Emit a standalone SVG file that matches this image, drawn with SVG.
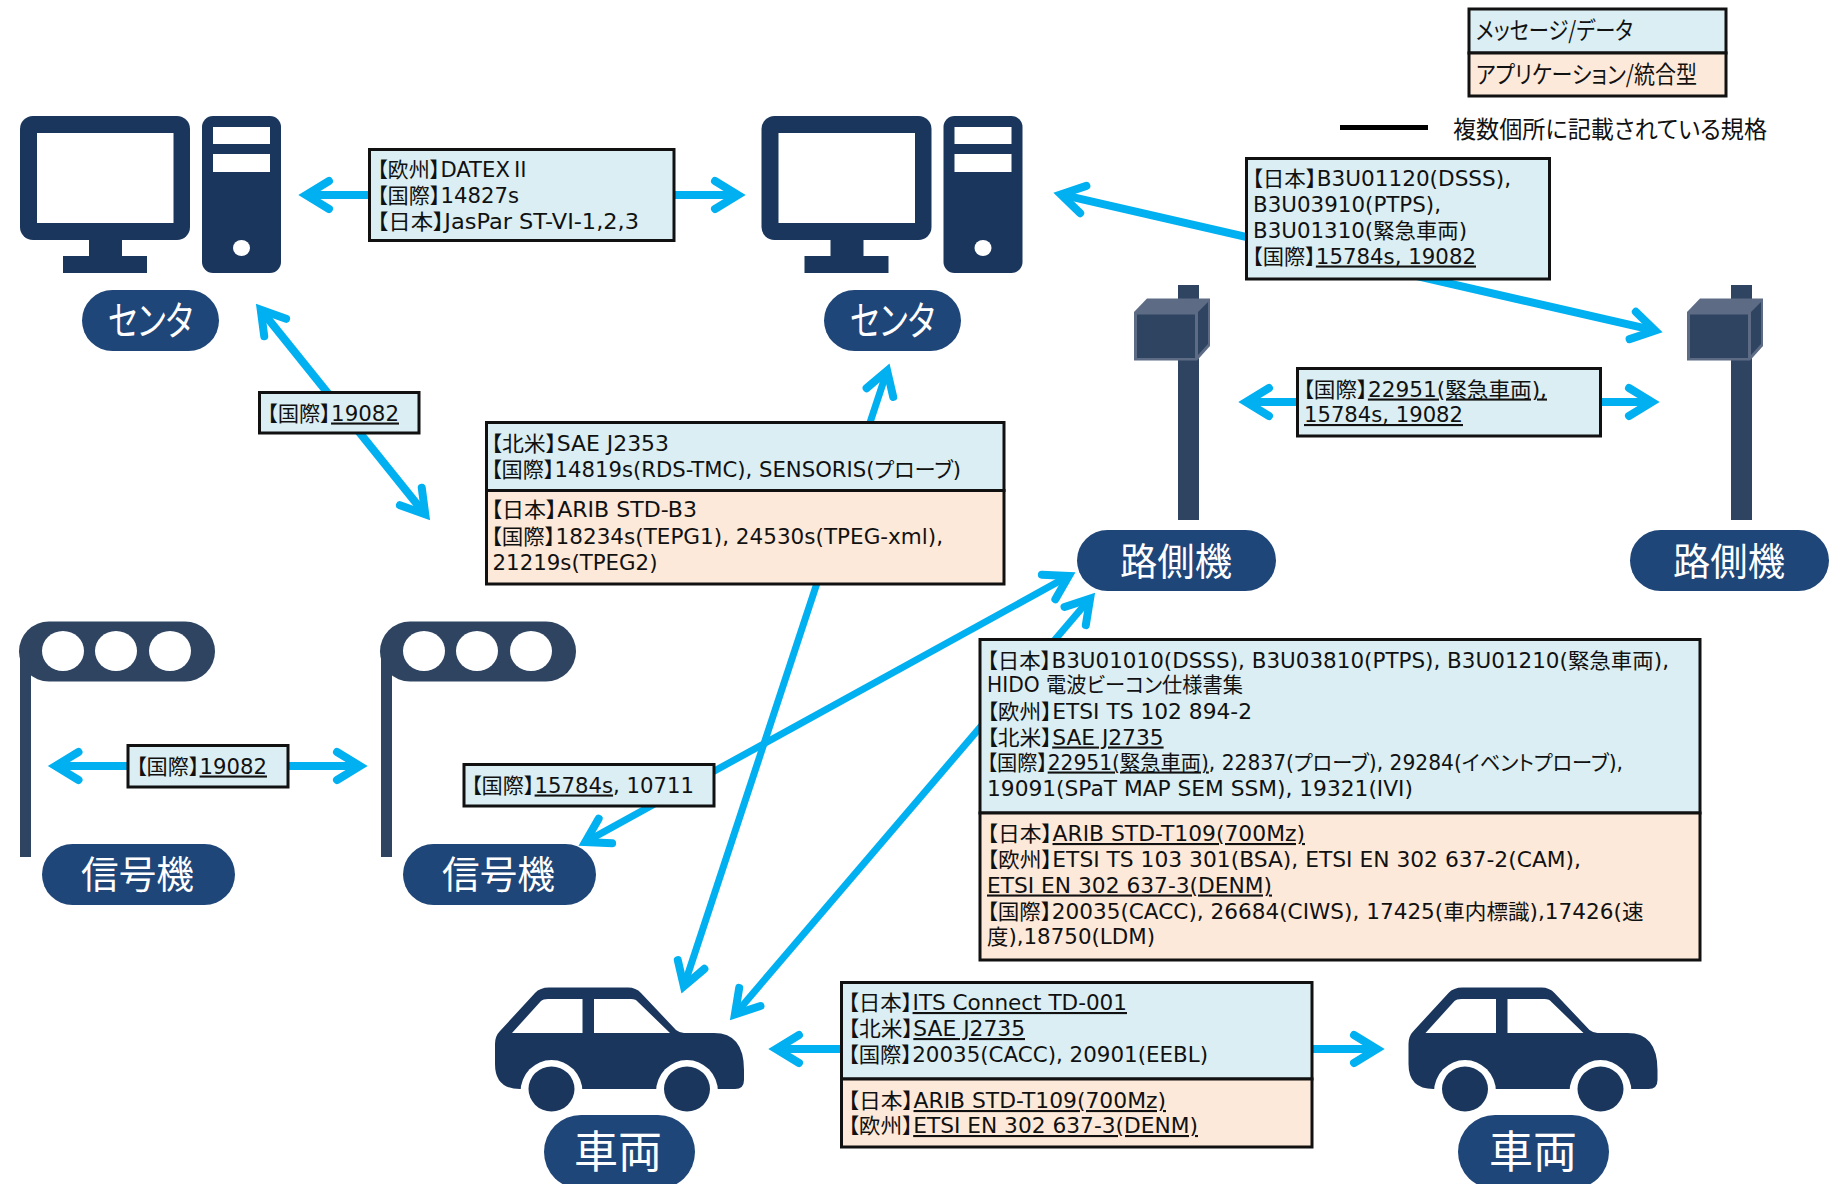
<svg xmlns="http://www.w3.org/2000/svg" xmlns:xlink="http://www.w3.org/1999/xlink" width="1834" height="1184" viewBox="0 0 1834 1184">
<style>
text{font-family:"DejaVu Sans","Noto Sans CJK JP",sans-serif;font-feature-settings:"palt";fill:#111}
.t{font-size:21px}
.l{font-size:24px;font-family:"Noto Sans CJK JP",sans-serif}
.j{font-family:"Noto Sans CJK JP",sans-serif}
.u{text-decoration:underline}
.p{font-family:"Noto Sans CJK JP",sans-serif;fill:#fff;text-anchor:start}
.pill{fill:#1F4679}
.m{fill:#DAEEF3;stroke:#111;stroke-width:3}
.a{fill:#FDE9D9;stroke:#111;stroke-width:3}
.c{fill:none;stroke:#00B0F0;stroke-width:8;marker-start:url(#h);marker-end:url(#h)}
.c7{stroke-width:7}
.icon{fill:#1A365D}
.sig{fill:#2E4461}
</style>
<defs>
<marker id="h" markerUnits="userSpaceOnUse" markerWidth="70" markerHeight="70" viewBox="-45 -35 70 70" refX="0" refY="0" orient="auto-start-reverse">
<path d="M-21 -14L2 0L-21 14" fill="none" stroke="#00B0F0" stroke-width="8" stroke-linecap="round" stroke-miterlimit="10"/>
</marker>
<g id="pc">
<rect class="icon" x="20" y="116" width="170" height="124" rx="13"/>
<rect x="37" y="133" width="136.500" height="90" fill="#fff"/>
<rect class="icon" x="89" y="238" width="33" height="20"/>
<rect class="icon" x="63" y="256" width="84" height="17"/>
<rect class="icon" x="202" y="116" width="79" height="157" rx="11"/>
<rect x="213" y="127" width="57" height="17" fill="#fff"/>
<rect x="213" y="154" width="57" height="18" fill="#fff"/>
<ellipse cx="241.500" cy="248" rx="8.500" ry="8" fill="#fff"/>
</g>
<g id="car">
<path class="icon" d="M495 1044Q495 1036 500 1031L535 993Q540 987.500 549 987.500L628 987.500Q636 987.500 641 993L676 1030Q680 1033 684 1033L714 1033Q744 1033 744 1070L744 1080Q744 1089 735 1089L520 1089Q495 1089 495 1064Z"/>
<path d="M512 1033L541 1001Q543 999 548 999L582.500 999L582.500 1033ZM594 1033L594 999L631 999Q636 999 638 1002L670 1033Z" fill="#fff"/>
<ellipse cx="551.500" cy="1092" rx="31" ry="32" fill="#fff"/>
<ellipse cx="687" cy="1092" rx="31" ry="32" fill="#fff"/>
<rect x="520" y="1094" width="200" height="20" fill="#fff"/>
<ellipse class="icon" cx="551.500" cy="1089" rx="23" ry="22.500"/>
<ellipse class="icon" cx="687" cy="1089" rx="23" ry="22.500"/>
</g>
<g id="rsu">
<rect class="sig" x="1178" y="285" width="21" height="235"/>
<path d="M1134 312L1147 298.500L1210 298.500L1210 346L1197 360.500L1134 360.500Z" fill="#5D6B85"/>
<rect class="sig" x="1137" y="314.500" width="58" height="43.500"/>
<path d="M1198 312L1208 302L1208 344L1198 355Z" fill="#2E4461"/>
</g>
<g id="signal">
<rect class="sig" x="19" y="621.500" width="196" height="60" rx="30"/>
<rect class="sig" x="20" y="650" width="11" height="207"/>
<ellipse cx="63" cy="651" rx="21" ry="20" fill="#fff"/>
<ellipse cx="116" cy="651" rx="21" ry="20" fill="#fff"/>
<ellipse cx="170" cy="651" rx="21" ry="20" fill="#fff"/>
</g>
</defs>
<rect width="1834" height="1184" fill="#fff"/>

<g id="connectors">
<path class="c" d="M308 195L736 195"/>
<path class="c" d="M262 311.200L424 512.800"/>
<path class="c" d="M57.500 766L358 766"/>
<path class="c c7" d="M886.500 372.600L684.500 984.400"/>
<path class="c c7" d="M1088.800 600.100L736.200 1012.900"/>
<path class="c c7" d="M1067 576.900L587 841.100"/>
<path class="c" d="M1062.800 194.800L1653.200 330.200"/>
<path class="c" d="M1248 402L1650 402"/>
<path class="c" d="M778 1049L1375 1049"/>
</g>

<g id="center-left"><use href="#pc"/><rect class="pill" x="82" y="290" width="137" height="61" rx="30.500"/><text class="p" x="108" y="335" font-size="40" textLength="85" lengthAdjust="spacingAndGlyphs">センタ</text></g>
<g id="center-right"><use href="#pc" x="741.500"/><rect class="pill" x="824" y="290" width="137" height="61" rx="30.500"/><text class="p" x="850" y="335" font-size="40" textLength="85" lengthAdjust="spacingAndGlyphs">センタ</text></g>
<g id="rsu-left"><use href="#rsu"/><rect class="pill" x="1077" y="530" width="199" height="61" rx="30.500"/><text class="p" x="1120" y="575" font-size="38" textLength="112" lengthAdjust="spacingAndGlyphs">路側機</text></g>
<g id="rsu-right"><use href="#rsu" x="553"/><rect class="pill" x="1630" y="530" width="199" height="61" rx="30.500"/><text class="p" x="1673" y="575" font-size="38" textLength="112" lengthAdjust="spacingAndGlyphs">路側機</text></g>
<g id="signal-left"><use href="#signal"/><rect class="pill" x="42" y="844" width="193" height="61" rx="30.500"/><text class="p" x="81" y="888" font-size="38" textLength="113" lengthAdjust="spacingAndGlyphs">信号機</text></g>
<g id="signal-right"><use href="#signal" x="361"/><rect class="pill" x="403" y="844" width="193" height="61" rx="30.500"/><text class="p" x="442" y="888" font-size="38" textLength="113" lengthAdjust="spacingAndGlyphs">信号機</text></g>
<g id="car-left"><use href="#car"/><rect class="pill" x="544" y="1115" width="151" height="74" rx="37"/><text class="p" x="574" y="1168" font-size="44" textLength="88" lengthAdjust="spacingAndGlyphs">車両</text></g>
<g id="car-right"><use href="#car" x="913.500"/><rect class="pill" x="1458" y="1115" width="151" height="74" rx="37"/><text class="p" x="1489" y="1168" font-size="44" textLength="88" lengthAdjust="spacingAndGlyphs">車両</text></g>

<g id="legend">
<rect class="m" x="1469" y="9" width="257" height="44"/>
<rect class="a" x="1469" y="53" width="257" height="43"/>
<text class="l" x="1476" y="39" textLength="157" lengthAdjust="spacingAndGlyphs">メッセージ/データ</text>
<text class="l" x="1476" y="83" textLength="221" lengthAdjust="spacingAndGlyphs">アプリケーション/統合型</text>
<rect x="1340" y="125" width="88" height="5" fill="#000"/>
<text class="l" x="1453" y="138" textLength="314" lengthAdjust="spacingAndGlyphs">複数個所に記載されている規格</text>
</g>

<g id="box-datex">
<rect class="m" x="369.500" y="149.500" width="304.500" height="91"/>
<text class="t" x="377" y="176.500" textLength="154" lengthAdjust="spacingAndGlyphs">【欧州】DATEX<tspan class="j">Ⅱ</tspan></text>
<text class="t" x="377" y="202.500" textLength="142" lengthAdjust="spacingAndGlyphs">【国際】14827s</text>
<text class="t" x="377" y="228.500" textLength="262" lengthAdjust="spacingAndGlyphs">【日本】JasPar ST-VI-1,2,3</text>
</g>

<g id="box-19082-center">
<rect class="m" x="259.500" y="392.500" width="159.500" height="40.500"/>
<text class="t" x="267" y="420.500" textLength="132" lengthAdjust="spacingAndGlyphs">【国際】<tspan class="u">19082</tspan></text>
</g>

<g id="box-rds">
<rect class="m" x="486.500" y="422.500" width="517.500" height="68"/>
<rect class="a" x="486.500" y="490.500" width="517.500" height="93.500"/>
<text class="t" x="491" y="451" textLength="178" lengthAdjust="spacingAndGlyphs">【北米】SAE J2353</text>
<text class="t" x="491" y="476.500" textLength="470" lengthAdjust="spacingAndGlyphs">【国際】14819s(RDS-TMC), SENSORIS(プローブ)</text>
<text class="t" x="491" y="517" textLength="206" lengthAdjust="spacingAndGlyphs">【日本】ARIB STD-B3</text>
<text class="t" x="491" y="543.500" textLength="452" lengthAdjust="spacingAndGlyphs">【国際】18234s(TEPG1), 24530s(TPEG-xml),</text>
<text class="t" x="492.500" y="569.500" textLength="165" lengthAdjust="spacingAndGlyphs">21219s(TPEG2)</text>
</g>

<g id="box-dsrc-center">
<rect class="m" x="1246.500" y="158.500" width="303" height="120.500"/>
<text class="t" x="1252" y="186" textLength="259" lengthAdjust="spacingAndGlyphs">【日本】B3U01120(DSSS),</text>
<text class="t" x="1253" y="212" textLength="188" lengthAdjust="spacingAndGlyphs">B3U03910(PTPS),</text>
<text class="t" x="1253" y="237.500" textLength="214" lengthAdjust="spacingAndGlyphs">B3U01310(緊急車両)</text>
<text class="t" x="1252" y="263.500" textLength="224" lengthAdjust="spacingAndGlyphs">【国際】<tspan class="u">15784s, 19082</tspan></text>
</g>

<g id="box-rsu-rsu">
<rect class="m" x="1297.500" y="368.500" width="303" height="67.500"/>
<text class="t" x="1303" y="396.500" textLength="244" lengthAdjust="spacingAndGlyphs">【国際】<tspan class="u">22951(緊急車両),</tspan></text>
<text class="t u" x="1304" y="422" textLength="159" lengthAdjust="spacingAndGlyphs">15784s, 19082</text>
</g>

<g id="box-19082-signal">
<rect class="m" x="128" y="745.500" width="160" height="41.500"/>
<text class="t" x="136" y="773.500" textLength="131" lengthAdjust="spacingAndGlyphs">【国際】<tspan class="u">19082</tspan></text>
</g>

<g id="box-15784">
<rect class="m" x="464" y="764.500" width="250" height="41.500"/>
<text class="t" x="471" y="792.500" textLength="223" lengthAdjust="spacingAndGlyphs">【国際】<tspan class="u">15784s</tspan>, 10711</text>
</g>

<g id="box-road-vehicle">
<rect class="m" x="980" y="639.500" width="720" height="173.500"/>
<rect class="a" x="980" y="813" width="720" height="147"/>
<text class="t" x="987" y="667.500" textLength="682" lengthAdjust="spacingAndGlyphs">【日本】B3U01010(DSSS), B3U03810(PTPS), B3U01210(緊急車両),</text>
<text class="t" x="987" y="692" textLength="256" lengthAdjust="spacingAndGlyphs">HIDO 電波ビーコン仕様書集</text>
<text class="t" x="987" y="718.500" textLength="265" lengthAdjust="spacingAndGlyphs">【欧州】ETSI TS 102 894-2</text>
<text class="t" x="987" y="744.500" textLength="176.600" lengthAdjust="spacingAndGlyphs">【北米】<tspan class="u">SAE J2735</tspan></text>
<text class="t" x="987" y="769.500" textLength="636" lengthAdjust="spacingAndGlyphs">【国際】<tspan class="u">22951(緊急車両)</tspan>, 22837(プローブ), 29284(イベントプローブ),</text>
<text class="t" x="987" y="795.500" textLength="426" lengthAdjust="spacingAndGlyphs">19091(SPaT MAP SEM SSM), 19321(IVI)</text>
<text class="t" x="987" y="841" textLength="318" lengthAdjust="spacingAndGlyphs">【日本】<tspan class="u">ARIB STD-T109(700Mz)</tspan></text>
<text class="t" x="987" y="866.500" textLength="594" lengthAdjust="spacingAndGlyphs">【欧州】ETSI TS 103 301(BSA), ETSI EN 302 637-2(CAM),</text>
<text class="t u" x="987" y="892.500" textLength="285" lengthAdjust="spacingAndGlyphs">ETSI EN 302 637-3(DENM)</text>
<text class="t" x="987" y="918.500" textLength="656.500" lengthAdjust="spacingAndGlyphs">【国際】20035(CACC), 26684(CIWS), 17425(車内標識),17426(速</text>
<text class="t" x="987" y="943.500" textLength="168" lengthAdjust="spacingAndGlyphs">度),18750(LDM)</text>
</g>

<g id="box-vehicle-vehicle">
<rect class="m" x="841.500" y="982.500" width="470.500" height="96.500"/>
<rect class="a" x="841.500" y="1079" width="470.500" height="68"/>
<text class="t" x="848" y="1010" textLength="279" lengthAdjust="spacingAndGlyphs">【日本】<tspan class="u">ITS Connect TD-001</tspan></text>
<text class="t" x="848" y="1036" textLength="177" lengthAdjust="spacingAndGlyphs">【北米】<tspan class="u">SAE J2735</tspan></text>
<text class="t" x="848" y="1062" textLength="360" lengthAdjust="spacingAndGlyphs">【国際】20035(CACC), 20901(EEBL)</text>
<text class="t" x="848" y="1108" textLength="318" lengthAdjust="spacingAndGlyphs">【日本】<tspan class="u">ARIB STD-T109(700Mz)</tspan></text>
<text class="t" x="848" y="1133" textLength="350" lengthAdjust="spacingAndGlyphs">【欧州】<tspan class="u">ETSI EN 302 637-3(DENM)</tspan></text>
</g>
</svg>
